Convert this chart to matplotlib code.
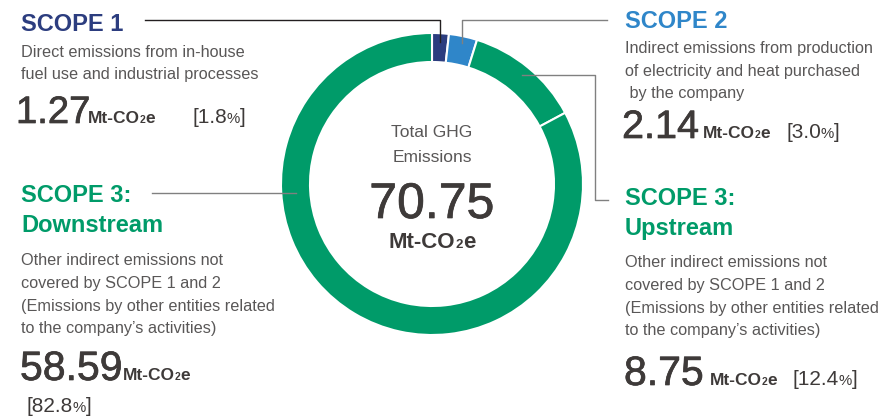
import matplotlib.pyplot as plt
import matplotlib.patheffects as pe

plt.rcParams['font.family'] = ['Liberation Sans', 'DejaVu Sans']

W, H = 881, 417

# GHG emissions by scope (Mt-CO2e) and share of total (%)
scopes = ['SCOPE 1', 'SCOPE 2', 'SCOPE 3: Upstream', 'SCOPE 3: Downstream']
emissions = [1.27, 2.14, 8.75, 58.59]
shares = [1.8, 3.0, 12.4, 82.8]
total = 70.75
ring_colors = ['#2c3d7f', '#2f86c9', '#009b69', '#009b69']

NAVY = '#2c3d7f'
BLUE = '#2f86c9'
GREEN = '#009b69'
BODY = '#595757'
DARK = '#3e3a39'

fig = plt.figure(figsize=(W / 100, H / 100), dpi=100)
ax = fig.add_axes([0, 0, 1, 1])
ax.set_xlim(0, W)
ax.set_ylim(H, 0)
ax.axis('off')
ax.set_zorder(2)

# donut
cx, cy, r, pad = 432, 184, 151, 4
pie_ax = fig.add_axes([(cx - r - pad) / W, (H - cy - r - pad) / H,
                       2 * (r + pad) / W, 2 * (r + pad) / H])
pie_ax.set_zorder(1)
pie_ax.pie(emissions, colors=ring_colors, startangle=90, counterclock=False,
           radius=1, wedgeprops=dict(width=29 / r, edgecolor='white', linewidth=1.5))
lim = (r + pad) / r
pie_ax.set_xlim(-lim, lim)
pie_ax.set_ylim(-lim, lim)

renderer = fig.canvas.get_renderer()
thick = [pe.withStroke(linewidth=0.5, foreground=DARK)]


def big(x, y, v, size, ha='left'):
    ax.text(x, y, f'{v:.2f}', fontsize=size, color=DARK, ha=ha, va='baseline',
            path_effects=thick)


def run(x, y, parts, color=DARK):
    # draw pieces of text one after another on a shared baseline
    for s, size, weight in parts:
        t = ax.text(x, y, s, fontsize=size, fontweight=weight, color=color,
                    ha='left', va='baseline')
        x = t.get_window_extent(renderer).x1
    return x


def unit(x, y, size=12.5):
    run(x, y, [('Mt-CO', size, 'bold'), ('2', size * 0.6, 'bold'), ('e', size, 'bold')])


def pct(x, y, v, size=15):
    run(x, y, [('[' + f'{v:.1f}', size, 'normal'), ('%', size * 0.72, 'normal'),
               (']', size, 'normal')])


def lines(x, y0, txt, step=22.8, size=11.7):
    for i, s in enumerate(txt):
        ax.text(x, y0 + i * step, s, fontsize=size, color=BODY, ha='left', va='baseline')


# leader lines
ax.plot([145, 440, 440], [20, 20, 42], color='#231f20', lw=1.0)
ax.plot([462, 462, 607], [43, 20, 20], color='#808080', lw=1.0)
ax.plot([522, 595, 595, 608], [75, 75, 200, 200], color='#808080', lw=1.0)
ax.plot([152, 296], [193, 193], color='#808080', lw=1.0)

# SCOPE 1
ax.text(21, 31, scopes[0], fontsize=17, fontweight='bold', color=NAVY, va='baseline')
lines(21, 57, ['Direct emissions from in-house',
               'fuel use and industrial processes'], step=22)
big(16, 123, emissions[0], 27.5)
unit(88, 123)
pct(192, 123, shares[0])

# SCOPE 2
ax.text(625, 28, scopes[1], fontsize=17, fontweight='bold', color=BLUE, va='baseline')
lines(625, 53, ['Indirect emissions from production',
                'of electricity and heat purchased',
                ' by the company'], step=22.5)
big(622, 138, emissions[1], 28.5)
unit(703, 138)
pct(786, 138, shares[1])

# SCOPE 3 upstream
ax.text(625, 205, 'SCOPE 3:', fontsize=17, fontweight='bold', color=GREEN, va='baseline')
ax.text(625, 235, 'Upstream', fontsize=17, fontweight='bold', color=GREEN, va='baseline')
lines(625, 267, ['Other indirect emissions not',
                 'covered by SCOPE 1 and 2',
                 '(Emissions by other entities related',
                 'to the company\u2019s activities)'])
big(624, 385, emissions[2], 29.5)
unit(710, 385)
pct(792, 385, shares[2])

# SCOPE 3 downstream
ax.text(21, 202, 'SCOPE 3:', fontsize=17, fontweight='bold', color=GREEN, va='baseline')
ax.text(21, 232, 'Downstream', fontsize=17, fontweight='bold', color=GREEN, va='baseline')
lines(21, 265, ['Other indirect emissions not',
                'covered by SCOPE 1 and 2',
                '(Emissions by other entities related',
                'to the company\u2019s activities)'])
big(20, 380, emissions[3], 29.5)
unit(123, 380)
pct(26, 412, shares[3])

# centre label
ax.text(cx, 137, 'Total GHG', fontsize=12.5, color=BODY, ha='center', va='baseline')
ax.text(cx, 162, 'Emissions', fontsize=12.5, color=BODY, ha='center', va='baseline')
big(cx, 218, total, 36, ha='center')
t1 = ax.text(0, 248, 'Mt-CO', fontsize=16, fontweight='bold', color=DARK, va='baseline')
t2 = ax.text(0, 248, '2', fontsize=9.5, fontweight='bold', color=DARK, va='baseline')
t3 = ax.text(0, 248, 'e', fontsize=16, fontweight='bold', color=DARK, va='baseline')
w = [t.get_window_extent(renderer).width for t in (t1, t2, t3)]
x = cx - sum(w) / 2
for t, wi in zip((t1, t2, t3), w):
    t.set_x(x)
    x += wi

fig.savefig('out.png', dpi=100)
